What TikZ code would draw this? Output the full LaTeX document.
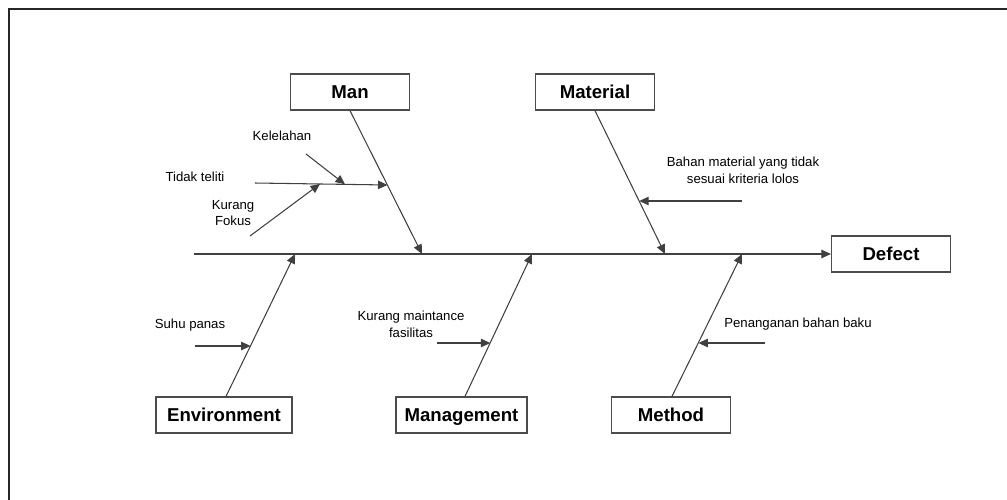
\documentclass[tikz,border=0pt]{standalone}
\usepackage{fontspec}
\setmainfont{Liberation Sans}
\usetikzlibrary{arrows.meta,positioning}
\tikzset{>={Triangle[length=0.19cm,width=0.17cm]}}
\colorlet{penColor}{black!75}
\colorlet{boxColor}{black!70}
\tikzset{
  box/.style={draw=boxColor,line width=0.7pt,minimum width=2.38cm,minimum height=0.72cm,inner sep=0pt,text height=0.76em,text depth=0.02em,font=\fontsize{10.6}{12}\selectfont\bfseries},
  bone/.style={penColor,line width=0.6pt,->},
  cause/.style={font=\fontsize{7.5}{9.5}\selectfont,inner sep=0pt,align=center}
}

\begin{document}
\begin{tikzpicture}[x=0.02cm,y=-0.02cm]
				\useasboundingbox (0,0) rectangle (1007,500);
				\draw[black!85,line width=1.1pt] (9,500) -- (9,9) -- (1007,9);% frame
				% categories
				\node[box] (man) at (350,92) {Man};
				\node[box] (material) at (595,92) {Material};
				\node[box] (defect) at (891,254) {Defect};
				\node[box,minimum width=2.72cm] (env) at (224,415) {Environment};
				\node[box,minimum width=2.62cm] (mgmt) at (461.5,415) {Management};
				\node[box] (method) at (671,415) {Method};
				% spine and bones
				\coordinate (tail) at (194,254);
				\coordinate (manend) at (422,254);
				\coordinate (matend) at (665,254);
				\coordinate (envend) at (295,254);
				\coordinate (mgmtend) at (532,254);
				\coordinate (methodend) at (742,254);
				\draw[bone] (tail) -- (defect.west);
				\draw[bone] (man.south) -- (manend);
				\draw[bone] (material.south) -- (matend);
				\draw[bone] (env.north -| 226,0) -- (envend);
				\draw[bone] (mgmt.north -| 465,0) -- (mgmtend);
				\draw[bone] (method.north -| 672,0) -- (methodend);
				% causes on Man
				\node[cause] (teliti) at (195,177) {Tidak teliti};
				\node[cause] (lelah) at (282,136) {Kelelahan};
				\node[cause] (fokus) at (233,213) {Kurang\\Fokus};
				\coordinate (telitistart) at (255,183);
				\coordinate (telitiend) at (387.5,185);
				\coordinate (lelahstart) at (306,154);
				\coordinate (lelahend) at (345,184.3);
				\coordinate (fokusstart) at (250,236);
				\coordinate (fokusend) at (320,183.9);
				\draw[bone] (telitistart) -- (telitiend);
				\draw[bone] (lelahstart) -- (lelahend);
				\draw[bone] (fokusstart) -- (fokusend);
				% cause on Material
				\node[cause] (bahan) at (743,170) {Bahan material yang tidak\\sesuai kriteria lolos};
				\coordinate (bahanstart) at (742,201);
				\coordinate (bahanend) at (639.2,201);
				\draw[bone] (bahanstart) -- (bahanend);
				% cause on Environment
				\node[cause] (suhu) at (190,325) {Suhu panas};
				\coordinate (suhustart) at (195,346);
				\coordinate (suhuend) at (250.6,346);
				\draw[bone] (suhustart) -- (suhuend);
				% cause on Management
				\node[cause] (fasilitas) at (411,324.5) {Kurang maintance\\fasilitas};
				\coordinate (fasilitasstart) at (437,343);
				\coordinate (fasilitasend) at (490.3,343);
				\draw[bone] (fasilitasstart) -- (fasilitasend);
				% cause on Method
				\node[cause] (penanganan) at (798,324) {Penanganan bahan baku};
				\coordinate (penangananstart) at (765,343);
				\coordinate (penangananend) at (698.4,343);
				\draw[bone] (penangananstart) -- (penangananend);
\end{tikzpicture}
\end{document}
